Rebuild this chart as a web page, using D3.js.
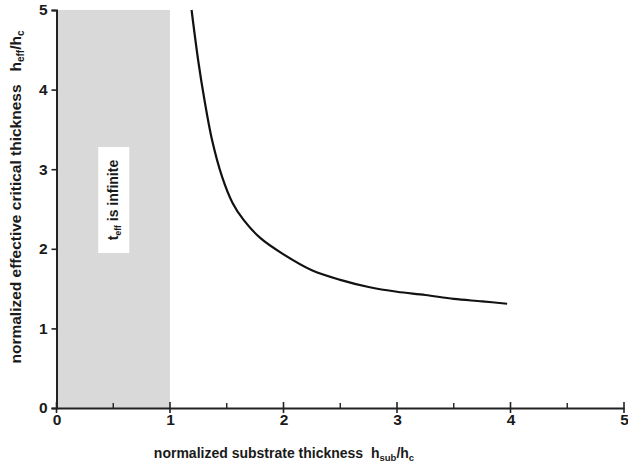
<!DOCTYPE html>
<html>
  <head>
  <title>Effective critical thickness</title>
  <style>
    body, html { margin: 0; padding: 0; background: #fff; }
    svg text { font-family: "Liberation Sans", Arial, sans-serif; font-weight: bold; fill: #1a1a1a; white-space: pre; }
  </style>
  </head>
  <body>

  <svg id="svg" width="628" height="468"></svg>

  <script src="https://d3js.org/d3.v7.min.js"></script>
  <script>
    // values
    const hSub = [1.19, 1.25, 1.30, 1.37, 1.46, 1.55, 1.65, 1.80, 2.00, 2.25, 2.50, 2.75, 3.00, 3.25, 3.50, 3.75, 3.97]
    const hEff = [5.00, 4.35, 3.90, 3.37, 2.90, 2.58, 2.36, 2.13, 1.93, 1.73, 1.61, 1.52, 1.46, 1.42, 1.37, 1.34, 1.31]
    const xTicks = [0, 1, 2, 3, 4, 5]
    const xMinor = [0.5, 1.5, 2.5, 3.5, 4.5]
    const yTicks = [0, 1, 2, 3, 4, 5]
    const infiniteRange = [0, 1]

    const svg = d3.select('#svg')
    const xscale = d3.scaleLinear().domain([0, 5]).range([56.5, 624])
    const yscale = d3.scaleLinear().domain([0, 5]).range([408, 10])

    // shaded region where t_eff is infinite
    svg.append('rect')
        .attr('x', xscale(infiniteRange[0]))
        .attr('y', yscale(5))
        .attr('width', xscale(infiniteRange[1]) - xscale(infiniteRange[0]))
        .attr('height', yscale(0) - yscale(5))
        .attr('fill', '#d9d9d9')

    const boxX = xscale(0.5) - 15
    svg.append('rect')
        .attr('x', boxX)
        .attr('y', 147)
        .attr('width', 31)
        .attr('height', 106)
        .attr('fill', '#fff')

    const lbl = svg.append('text')
        .attr('transform', `translate(${xscale(0.5) + 5},200) rotate(-90)`)
        .attr('text-anchor', 'middle')
        .attr('font-size', 14)
    lbl.append('tspan').text('t')
    lbl.append('tspan').text('eff').attr('font-size', 8.5).attr('dy', 3)
    lbl.append('tspan').text(' is infinite').attr('dy', -3)

    // curve
    const data = hSub.map((x, i) => ({x: x, y: hEff[i]}))
    const linegen = d3.line()
        .x(d => xscale(d.x))
        .y(d => yscale(d.y))
        .curve(d3.curveCatmullRom)
    svg.append('path')
        .attr('d', linegen(data))
        .attr('stroke', '#111')
        .attr('stroke-width', 2.2)
        .attr('fill', 'none')

    // x axis
    const xAxis = svg.append('g').attr('transform', `translate(0,${yscale(0)})`)
    xAxis.call(d3.axisBottom(xscale).tickValues(xTicks).tickSize(0).tickPadding(6).tickFormat(d3.format('d')))
    xAxis.select('.domain').attr('stroke', '#222').attr('stroke-width', 2)
    xAxis.selectAll('.tick text').attr('font-size', 15.5)
    xAxis.selectAll('.major').data(xTicks).join('line')
        .attr('x1', d => xscale(d)).attr('x2', d => xscale(d))
        .attr('y1', -6).attr('y2', 5)
        .attr('stroke', '#222').attr('stroke-width', 1.6)
    xAxis.selectAll('.minor').data(xMinor).join('line')
        .attr('x1', d => xscale(d)).attr('x2', d => xscale(d))
        .attr('y1', -5).attr('y2', 0)
        .attr('stroke', '#222').attr('stroke-width', 1.4)

    // y axis
    const yAxis = svg.append('g').attr('transform', `translate(${xscale(0)},0)`)
    yAxis.call(d3.axisLeft(yscale).tickValues(yTicks).tickSize(5).tickPadding(4).tickFormat(d3.format('d')))
    yAxis.select('.domain').attr('stroke', '#222').attr('stroke-width', 2)
    yAxis.selectAll('.tick line').attr('stroke', '#222').attr('stroke-width', 1.6)
    yAxis.selectAll('.tick text').attr('font-size', 15.5)

    // axis titles
    const xt = svg.append('text')
        .attr('x', 284).attr('y', 458)
        .attr('text-anchor', 'middle')
        .attr('font-size', 14)
    xt.append('tspan').text('normalized substrate thickness  h')
    xt.append('tspan').text('sub').attr('font-size', 9.5).attr('dy', 3)
    xt.append('tspan').text('/h').attr('dy', -3)
    xt.append('tspan').text('c').attr('font-size', 9.5).attr('dy', 3)

    const yt = svg.append('text')
        .attr('transform', 'translate(21,197) rotate(-90)')
        .attr('text-anchor', 'middle')
        .attr('font-size', 15.5)
    yt.append('tspan').text('normalized effective critical thickness   h')
    yt.append('tspan').text('eff').attr('font-size', 10).attr('dy', 3)
    yt.append('tspan').text('/h').attr('dy', -3)
    yt.append('tspan').text('c').attr('font-size', 10).attr('dy', 3)
  </script>
  </body>
</html>
